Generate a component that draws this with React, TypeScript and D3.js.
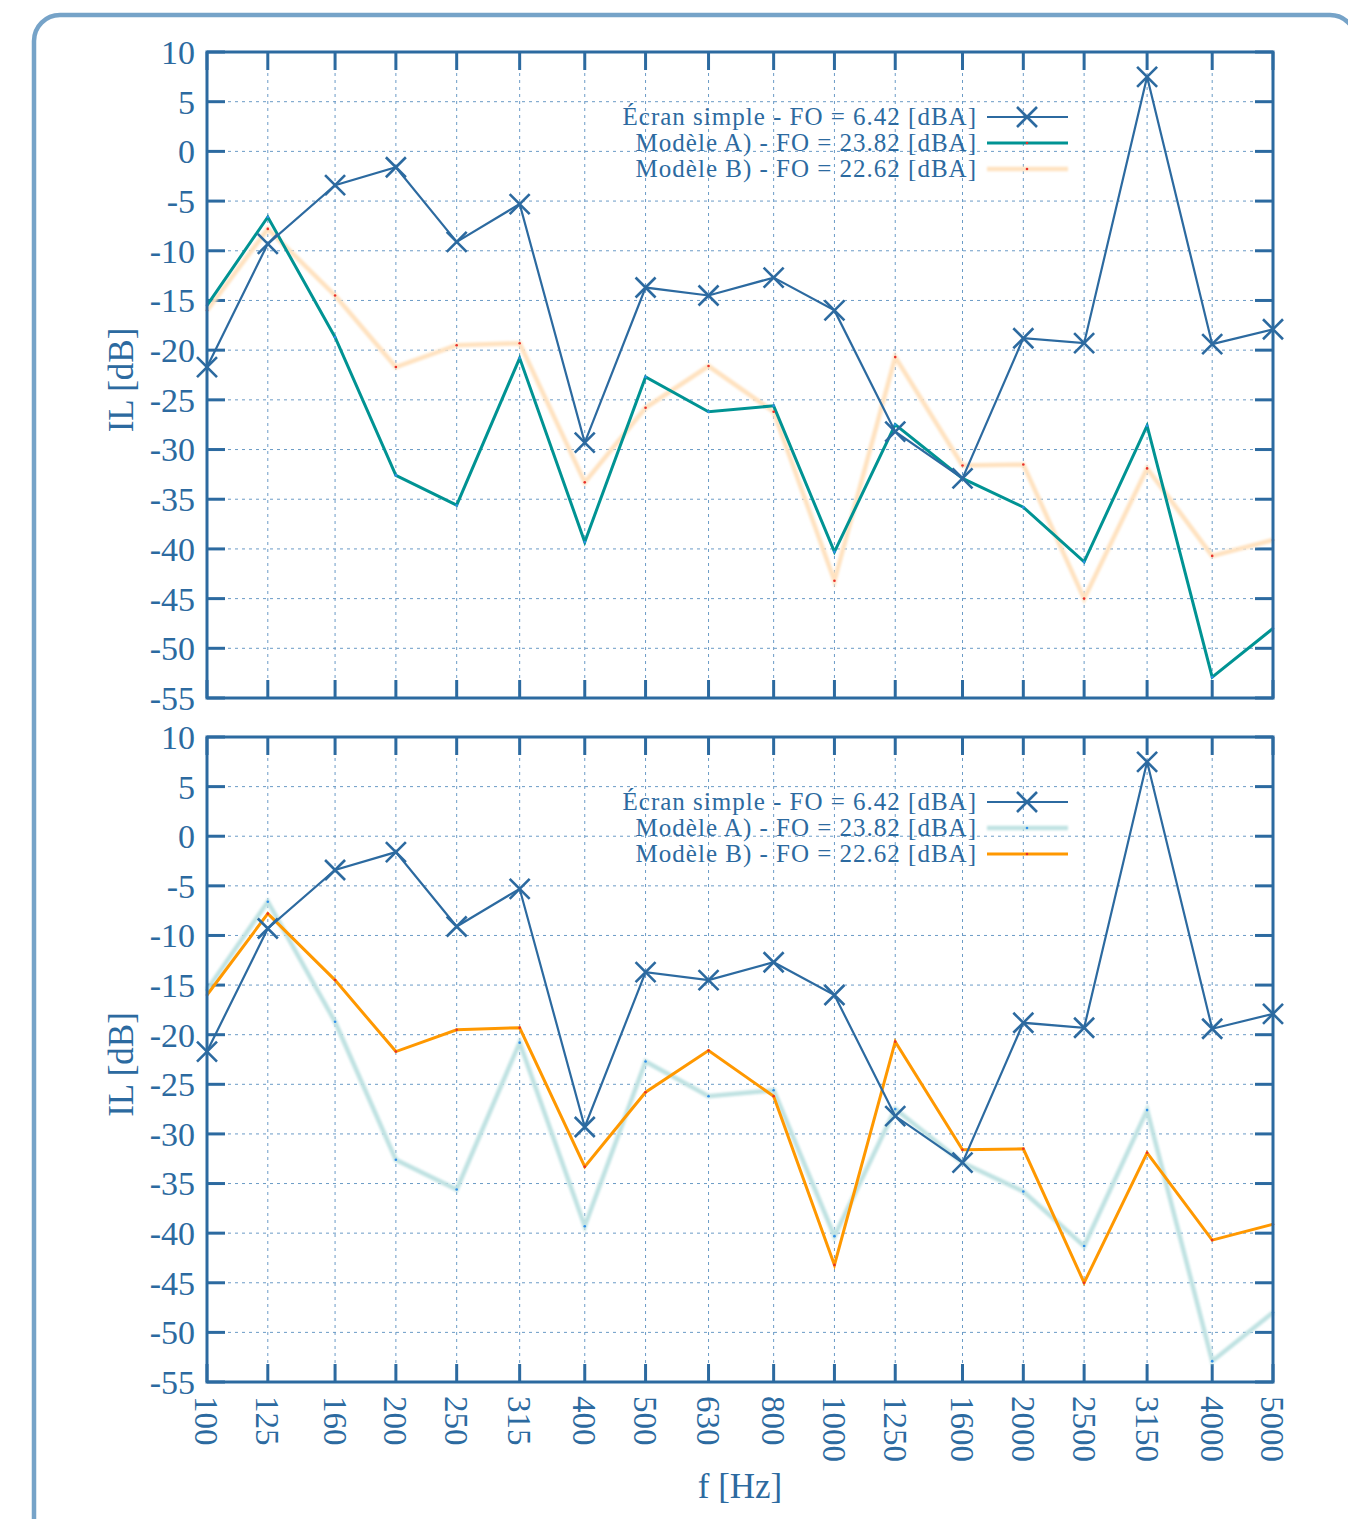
import React from "react";
import * as d3 from "d3";

const freqs = [100, 125, 160, 200, 250, 315, 400, 500, 630, 800, 1000, 1250, 1600, 2000, 2500, 3150, 4000, 5000];
const ecran = [-21.7, -9.3, -3.4, -1.6, -9.1, -5.3, -29.3, -13.7, -14.5, -12.7, -16.0, -28.2, -32.9, -18.8, -19.3, 7.5, -19.4, -17.9];
const modeleA = [-15.5, -6.6, -18.7, -32.6, -35.6, -20.8, -39.3, -22.7, -26.2, -25.6, -40.3, -27.5, -32.9, -35.8, -41.3, -27.6, -52.9, -48.0];
const modeleB = [-16.0, -7.8, -14.5, -21.7, -19.5, -19.3, -33.3, -25.8, -21.6, -26.2, -43.2, -20.7, -31.6, -31.5, -45.0, -31.9, -40.7, -39.1];
const yTicks = [10, 5, 0, -5, -10, -15, -20, -25, -30, -35, -40, -45, -50, -55];
const legendLabels = ["Écran simple - FO = 6.42 [dBA]", "Modèle A) - FO = 23.82 [dBA]", "Modèle B) - FO = 22.62 [dBA]"];
const yLabel = "IL [dB]";
const xLabel = "f [Hz]";

const AX = "#2c6aa0";
const GRID = "#6b9bc6";
const FONT = "'Liberation Serif', 'DejaVu Serif', serif";

const X0 = 207, X1 = 1273;
const x = d3.scaleLog().domain([100, 5000]).range([X0, X1]);

type Pt = [number, number];
const pts = (vals: number[]): Pt[] => freqs.map((f, i) => [f, vals[i]]);

function Panel({ top, bottom, emph, showX }: { top: number; bottom: number; emph: "A" | "B"; showX: boolean }) {
  const y = d3.scaleLinear().domain([-55, 10]).range([bottom, top]);
  const line = d3.line<Pt>().x(d => x(d[0])).y(d => y(d[1]));
  const tick = 18;
  const fadedA = emph === "B";
  const fadedB = emph === "A";
  const legY = [top + 65, top + 91, top + 117];
  const lx0 = 987, lx1 = 1068, lxm = 1027;
  const cross = (cx: number, cy: number, s: number) => `M${cx - s},${cy - s}L${cx + s},${cy + s}M${cx - s},${cy + s}L${cx + s},${cy - s}`;
  const filt = `blur${top}`;

  const lineA = line(pts(modeleA)) || "";
  const lineB = line(pts(modeleB)) || "";
  const lineE = line(pts(ecran)) || "";

  const styleA = fadedA
    ? { stroke: "#bfe2e2", strokeWidth: 4.5, filter: `url(#${filt})` }
    : { stroke: "#009393", strokeWidth: 3 };
  const styleB = fadedB
    ? { stroke: "#ffe2c0", strokeWidth: 4.5, filter: `url(#${filt})` }
    : { stroke: "#ff9800", strokeWidth: 3 };

  const drawA = <path d={lineA} fill="none" {...(styleA as any)} strokeLinejoin="miter" />;
  const drawB = <path d={lineB} fill="none" {...(styleB as any)} strokeLinejoin="miter" />;

  return (
    <g>
      <defs>
        <filter id={filt} filterUnits="userSpaceOnUse" x={0} y={0} width={1348} height={1519}>
          <feGaussianBlur stdDeviation="1.2" />
        </filter>
      </defs>
      {/* grid */}
      {yTicks.filter(t => t !== 10 && t !== -55).map(t => (
        <line key={"gy" + t} x1={X0} x2={X1} y1={y(t)} y2={y(t)} stroke={GRID} strokeWidth={1} strokeDasharray="3,4" />
      ))}
      {freqs.filter(f => f !== 100 && f !== 5000).map(f => (
        <line key={"gx" + f} x1={x(f)} x2={x(f)} y1={top} y2={bottom} stroke={GRID} strokeWidth={1} strokeDasharray="3,4" />
      ))}
      {/* ticks */}
      {yTicks.map(t => (
        <g key={"ty" + t}>
          <line x1={X0} x2={X0 + tick} y1={y(t)} y2={y(t)} stroke={AX} strokeWidth={3} />
          <line x1={X1 - tick} x2={X1} y1={y(t)} y2={y(t)} stroke={AX} strokeWidth={3} />
          <text x={195} y={y(t)} dy="0.35em" textAnchor="end" fontSize={34} fill={AX} fontFamily={FONT}>{t}</text>
        </g>
      ))}
      {freqs.map(f => (
        <g key={"tx" + f}>
          <line x1={x(f)} x2={x(f)} y1={top} y2={top + tick} stroke={AX} strokeWidth={3} />
          <line x1={x(f)} x2={x(f)} y1={bottom - tick} y2={bottom} stroke={AX} strokeWidth={3} />
          {showX && (
            <text transform={`translate(${x(f)},${bottom + 14}) rotate(90)`} dy="0.35em" textAnchor="start" fontSize={33} fill={AX} fontFamily={FONT}>{f}</text>
          )}
        </g>
      ))}
      {/* series */}
      {fadedA ? drawA : drawB}
      {fadedA ? drawB : drawA}
      {freqs.map((f, i) => (
        <circle key={"da" + f} cx={x(f)} cy={y(modeleA[i])} r={1.3} fill="#2f8fe8" />
      ))}
      {freqs.map((f, i) => (
        <circle key={"db" + f} cx={x(f)} cy={y(modeleB[i])} r={1.3} fill="#e8302a" />
      ))}
      <path d={lineE} fill="none" stroke={AX} strokeWidth={2.2} />
      {freqs.map((f, i) => (
        <path key={"m" + f} d={cross(x(f), y(ecran[i]), 10)} stroke={AX} strokeWidth={2.6} fill="none" />
      ))}
      {/* frame */}
      <rect x={X0} y={top} width={X1 - X0} height={bottom - top} fill="none" stroke={AX} strokeWidth={3} />
      {/* y label */}
      <text transform={`translate(133,${(top + bottom) / 2 + 5}) rotate(-90)`} textAnchor="middle" fontSize={35} fill={AX} fontFamily={FONT}>{yLabel}</text>
      {/* legend */}
      {legendLabels.map((lab, i) => (
        <text key={"lt" + i} x={977} y={legY[i]} dy="0.33em" textAnchor="end" fontSize={25} letterSpacing={1} fill={AX} fontFamily={FONT}>{lab}</text>
      ))}
      <line x1={lx0} x2={lx1} y1={legY[0]} y2={legY[0]} stroke={AX} strokeWidth={2.2} />
      <path d={cross(lxm, legY[0], 10)} stroke={AX} strokeWidth={2.6} fill="none" />
      <line x1={lx0} x2={lx1} y1={legY[1]} y2={legY[1]} {...(styleA as any)} />
      <circle cx={lxm} cy={legY[1]} r={1.3} fill={emph === "A" ? "#e8302a" : "#2f8fe8"} />
      <line x1={lx0} x2={lx1} y1={legY[2]} y2={legY[2]} {...(styleB as any)} />
      <circle cx={lxm} cy={legY[2]} r={1.3} fill="#e8302a" />
    </g>
  );
}

export default function App() {
  return (
    <svg width={1348} height={1519} style={{ position: "absolute", left: 0, top: 0, display: "block", background: "#fff" }}>
      <rect x={34} y={15} width={1322} height={1530} rx={26} ry={26} fill="none" stroke="#76a3c8" strokeWidth={4.5} />
      <Panel top={52} bottom={698} emph="A" showX={false} />
      <Panel top={737} bottom={1382} emph="B" showX={true} />
      <text x={740} y={1498} textAnchor="middle" fontSize={35} fill={AX} fontFamily={FONT}>{xLabel}</text>
    </svg>
  );
}
